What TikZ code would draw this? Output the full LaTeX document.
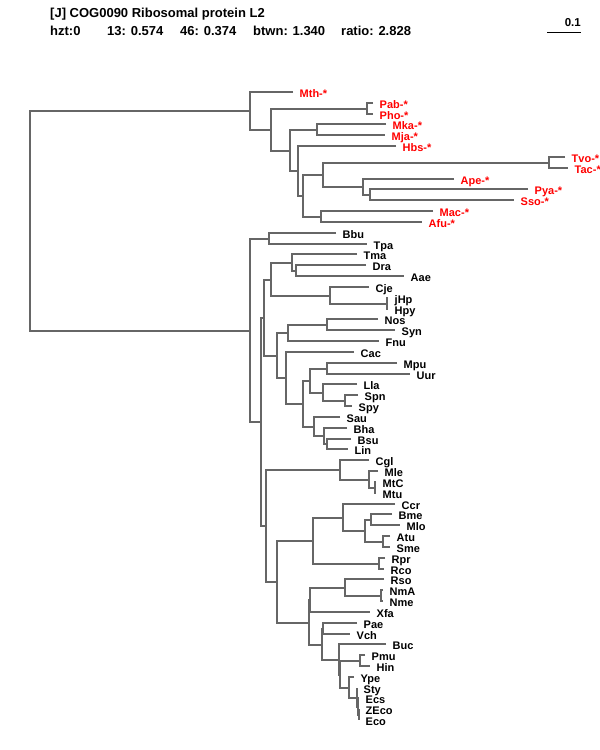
\documentclass[tikz,border=0pt]{standalone}
\usepackage{fontspec}
\setmainfont{Liberation Sans}
\usetikzlibrary{calc}
\definecolor{TreeGray}{HTML}{666666}
\definecolor{ArchRed}{HTML}{FF0000}
\tikzset{
  branch/.style={draw=TreeGray, line width=2pt},
  bact/.style={anchor=base west, inner sep=0pt, xshift=6.5pt, yshift=-5.3pt, font=\fontsize{11}{12}\selectfont\bfseries},
  arch/.style={bact, text=ArchRed},
  head/.style={anchor=base west, inner sep=0pt, font=\fontsize{13}{15}\selectfont\bfseries},
  scalebar/.style={draw=black, line width=1pt}
}
\newcommand{\taxon}[5]{%
  \coordinate (#1) at (#2,{round(92+10.83*#3)});
  \node[#4] (t#1) at (#1) {#5};}
\newcommand{\clade}[4]{%
  \path let \p1=($(#3)!0.5!(#4)$) in coordinate (#1) at ({#2pt},{round(\y1)*1pt});
  \draw[branch] (#3) -| (#1) |- (#4);}

\begin{document}
\begin{tikzpicture}[x=1pt, y=-1pt]
    \path[use as bounding box, fill=white] (0,0) rectangle (600,750);

    \node[head] (title) at (50,17.5) {[J] COG0090 Ribosomal protein L2};
    \node[head] (hzt) at (50,35.5) {hzt:0};
    \node[head] (s13) at (107,35.5) {13: 0.574};
    \node[head] (s46) at (180,35.5) {46: 0.374};
    \node[head] (btwn) at (253,35.5) {btwn: 1.340};
    \node[head] (ratio) at (341,35.5) {ratio: 2.828};
    \coordinate (barL) at (547,32);
    \coordinate (barR) at (581,32);
    \draw[scalebar] (barL) -- (barR);
    \node[head, anchor=base east, font=\fontsize{11.5}{13}\selectfont\bfseries] (barlab) at (581,26.5) {0.1};

    \taxon{Mth}{293}{0}{arch}{Mth-*}
    \taxon{Pab}{373}{1}{arch}{Pab-*}
    \taxon{Pho}{373}{2}{arch}{Pho-*}
    \taxon{Mka}{386}{3}{arch}{Mka-*}
    \taxon{Mja}{385}{4}{arch}{Mja-*}
    \taxon{Hbs}{396}{5}{arch}{Hbs-*}
    \taxon{Tvo}{565}{6}{arch}{Tvo-*}
    \taxon{Tac}{568}{7}{arch}{Tac-*}
    \taxon{Ape}{454}{8}{arch}{Ape-*}
    \taxon{Pya}{528}{9}{arch}{Pya-*}
    \taxon{Sso}{514}{10}{arch}{Sso-*}
    \taxon{Mac}{433}{11}{arch}{Mac-*}
    \taxon{Afu}{422}{12}{arch}{Afu-*}

    \taxon{Bbu}{336}{13}{bact}{Bbu}
    \taxon{Tpa}{367}{14}{bact}{Tpa}
    \taxon{Tma}{357}{15}{bact}{Tma}
    \taxon{Dra}{366}{16}{bact}{Dra}
    \taxon{Aae}{404}{17}{bact}{Aae}
    \taxon{Cje}{369}{18}{bact}{Cje}
    \taxon{jHp}{388}{19}{bact}{jHp}
    \taxon{Hpy}{388}{20}{bact}{Hpy}
    \taxon{Nos}{378}{21}{bact}{Nos}
    \taxon{Syn}{395}{22}{bact}{Syn}
    \taxon{Fnu}{379}{23}{bact}{Fnu}
    \taxon{Cac}{354}{24}{bact}{Cac}
    \taxon{Mpu}{397}{25}{bact}{Mpu}
    \taxon{Uur}{410}{26}{bact}{Uur}
    \taxon{Lla}{357}{27}{bact}{Lla}
    \taxon{Spn}{358}{28}{bact}{Spn}
    \taxon{Spy}{352}{29}{bact}{Spy}
    \taxon{Sau}{340}{30}{bact}{Sau}
    \taxon{Bha}{347}{31}{bact}{Bha}
    \taxon{Bsu}{351}{32}{bact}{Bsu}
    \taxon{Lin}{348}{33}{bact}{Lin}
    \taxon{Cgl}{369}{34}{bact}{Cgl}
    \taxon{Mle}{378}{35}{bact}{Mle}
    \taxon{MtC}{376}{36}{bact}{MtC}
    \taxon{Mtu}{376}{37}{bact}{Mtu}
    \taxon{Ccr}{395}{38}{bact}{Ccr}
    \taxon{Bme}{392}{39}{bact}{Bme}
    \taxon{Mlo}{400}{40}{bact}{Mlo}
    \taxon{Atu}{390}{41}{bact}{Atu}
    \taxon{Sme}{390}{42}{bact}{Sme}
    \taxon{Rpr}{385}{43}{bact}{Rpr}
    \taxon{Rco}{384}{44}{bact}{Rco}
    \taxon{Rso}{384}{45}{bact}{Rso}
    \taxon{NmA}{383}{46}{bact}{NmA}
    \taxon{Nme}{383}{47}{bact}{Nme}
    \taxon{Xfa}{370}{48}{bact}{Xfa}
    \taxon{Pae}{357}{49}{bact}{Pae}
    \taxon{Vch}{350}{50}{bact}{Vch}
    \taxon{Buc}{386}{51}{bact}{Buc}
    \taxon{Pmu}{365}{52}{bact}{Pmu}
    \taxon{Hin}{370}{53}{bact}{Hin}
    \taxon{Ype}{354}{54}{bact}{Ype}
    \taxon{Sty}{357}{55}{bact}{Sty}
    \taxon{Ecs}{359}{56}{bact}{Ecs}
    \taxon{ZEco}{359}{57}{bact}{ZEco}
    \taxon{Eco}{359}{58}{bact}{Eco}

    \clade{A2}{367}{Pab}{Pho}
    \clade{A4}{317}{Mka}{Mja}
    \clade{A8}{549}{Tvo}{Tac}
    \clade{A9b}{370}{Pya}{Sso}
    \clade{A9}{363}{Ape}{A9b}
    \clade{A7}{323}{A8}{A9}
    \clade{A10}{321}{Mac}{Afu}
    \clade{A6}{303}{A7}{A10}
    \clade{A5}{298}{Hbs}{A6}
    \clade{A3}{290}{A4}{A5}
    \clade{A1}{271}{A2}{A3}
    \clade{AR}{250}{Mth}{A1}

    \clade{B1}{269}{Bbu}{Tpa}
    \clade{B6}{296}{Dra}{Aae}
    \clade{B5}{292}{Tma}{B6}
    \clade{B7b}{387}{jHp}{Hpy}
    \clade{B7}{330}{Cje}{B7b}
    \clade{B4}{271}{B5}{B7}
    \clade{B10}{327}{Nos}{Syn}
    \clade{B9}{288}{B10}{Fnu}
    \clade{B14}{327}{Mpu}{Uur}
    \clade{B15b}{345}{Spn}{Spy}
    \clade{B15}{323}{Lla}{B15b}
    \clade{B13}{310}{B14}{B15}
    \clade{B18}{327}{Bsu}{Lin}
    \clade{B17}{324}{Bha}{B18}
    \clade{B16}{314}{Sau}{B17}
    \clade{B12}{303}{B13}{B16}
    \clade{B11}{286}{Cac}{B12}
    \clade{B8}{277}{B9}{B11}
    \clade{B3}{264}{B4}{B8}
    \clade{B23}{375}{MtC}{Mtu}
    \clade{B22}{369}{Mle}{B23}
    \clade{B21}{340}{Cgl}{B22}
    \clade{B27a}{371}{Bme}{Mlo}
    \clade{B27b}{383}{Atu}{Sme}
    \clade{B27}{365}{B27a}{B27b}
    \clade{B26}{343}{Ccr}{B27}
    \clade{B29}{379}{Rpr}{Rco}
    \clade{B25}{313}{B26}{B29}
    \clade{B33}{381}{NmA}{Nme}
    \clade{B32}{345}{Rso}{B33}
    \clade{B31}{310}{B32}{Xfa}
    \clade{B35}{323}{Pae}{Vch}
    \clade{B38}{360}{Pmu}{Hin}
    \clade{B42}{359}{ZEco}{Eco}
    \clade{B41}{358}{Ecs}{B42}
    \clade{B40}{357}{Sty}{B41}
    \clade{B39}{349}{Ype}{B40}
    \clade{B37}{340}{B38}{B39}
    \clade{B36}{339}{Buc}{B37}
    \clade{B34}{322}{B35}{B36}
    \clade{B30}{309}{B31}{B34}
    \clade{B24}{277}{B25}{B30}
    \clade{B20}{266}{B21}{B24}
    \clade{B2}{261}{B3}{B20}
    \clade{BA}{250}{B1}{B2}
    \clade{R}{30}{AR}{BA}
  \end{tikzpicture}
\end{document}
